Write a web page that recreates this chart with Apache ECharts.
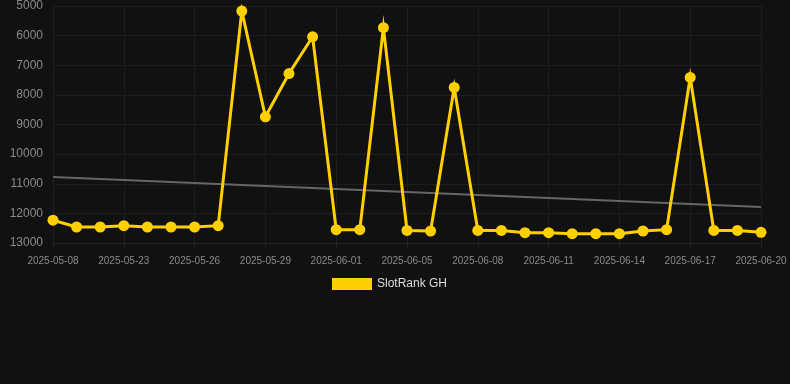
<!DOCTYPE html>
<html>
<head>
<meta charset="utf-8">
<script src="https://cdn.jsdelivr.net/npm/echarts@6/dist/echarts.min.js"></script>
<style>
html,body{margin:0;padding:0;background:#111111;}
#chart{width:790px;height:384px;}
</style>
</head>
<body>
<div id="chart"></div>
<script>
const categories = [
  '2025-05-08','2025-05-21','2025-05-22','2025-05-23','2025-05-24','2025-05-25',
  '2025-05-26','2025-05-27','2025-05-28','2025-05-29','2025-05-30','2025-05-31',
  '2025-06-01','2025-06-02','2025-06-03','2025-06-05','2025-06-06','2025-06-07',
  '2025-06-08','2025-06-09','2025-06-10','2025-06-11','2025-06-12','2025-06-13',
  '2025-06-14','2025-06-15','2025-06-16','2025-06-17','2025-06-18','2025-06-19',
  '2025-06-20'
];
const rankValues = [
  12230, 12460, 12460, 12415, 12460, 12460,
  12460, 12415, 5170, 8740, 7280, 6040,
  12550, 12550, 5730, 12575, 12595, 7750,
  12575, 12575, 12650, 12650, 12685, 12685,
  12685, 12595, 12550, 7410, 12575, 12575,
  12640
];
const trendStart = 10770;
const trendEnd = 11785;
const yTicks = { min: 5000, max: 13000, interval: 1000 };

const trendData = categories.map((c, i) =>
  i === 0 ? trendStart : (i === categories.length - 1 ? trendEnd : null));

const chart = echarts.init(document.getElementById('chart'), null, { renderer: 'canvas' });
chart.setOption({
  backgroundColor: '#111111',
  animation: false,
  grid: { left: 53, right: 29, top: 6, bottom: 141, containLabel: false },
  legend: {
    data: ['SlotRank GH'],
    top: 273,
    left: 327,
    icon: 'rect',
    itemWidth: 40,
    itemHeight: 12,
    itemGap: 10,
    textStyle: { color: '#dddddd', fontSize: 12, fontFamily: 'Liberation Sans, Arial, sans-serif' }
  },
  xAxis: {
    type: 'category',
    data: categories,
    boundaryGap: false,
    axisLine: { show: true, lineStyle: { color: '#222222' } },
    axisTick: { show: true, interval: 2, lineStyle: { color: '#222222' } },
    axisLabel: {
      interval: 2,
      color: '#8a8a8a',
      fontSize: 10,
      margin: 13,
      fontFamily: 'Liberation Sans, Arial, sans-serif'
    },
    splitLine: { show: true, interval: 2, lineStyle: { color: '#1e1e1e' } }
  },
  yAxis: {
    type: 'value',
    inverse: true,
    min: yTicks.min,
    max: yTicks.max,
    interval: yTicks.interval,
    axisLine: { show: false },
    axisTick: { show: false },
    axisLabel: {
      color: '#8a8a8a',
      fontSize: 12,
      margin: 10,
      formatter: (v) => String(v),
      fontFamily: 'Liberation Sans, Arial, sans-serif'
    },
    splitLine: { show: true, lineStyle: { color: '#1e1e1e' } }
  },
  series: [
    {
      name: 'Trend',
      type: 'line',
      data: trendData,
      connectNulls: true,
      symbol: 'none',
      silent: true,
      lineStyle: { color: '#666666', width: 2 },
      z: 1
    },
    {
      name: 'SlotRank GH',
      type: 'line',
      data: rankValues,
      symbol: 'circle',
      symbolSize: 11,
      itemStyle: { color: '#FFD000' },
      lineStyle: { color: '#FFD000', width: 3, join: 'miter', miterLimit: 10 },
      z: 2
    }
  ]
});
</script>
</body>
</html>
